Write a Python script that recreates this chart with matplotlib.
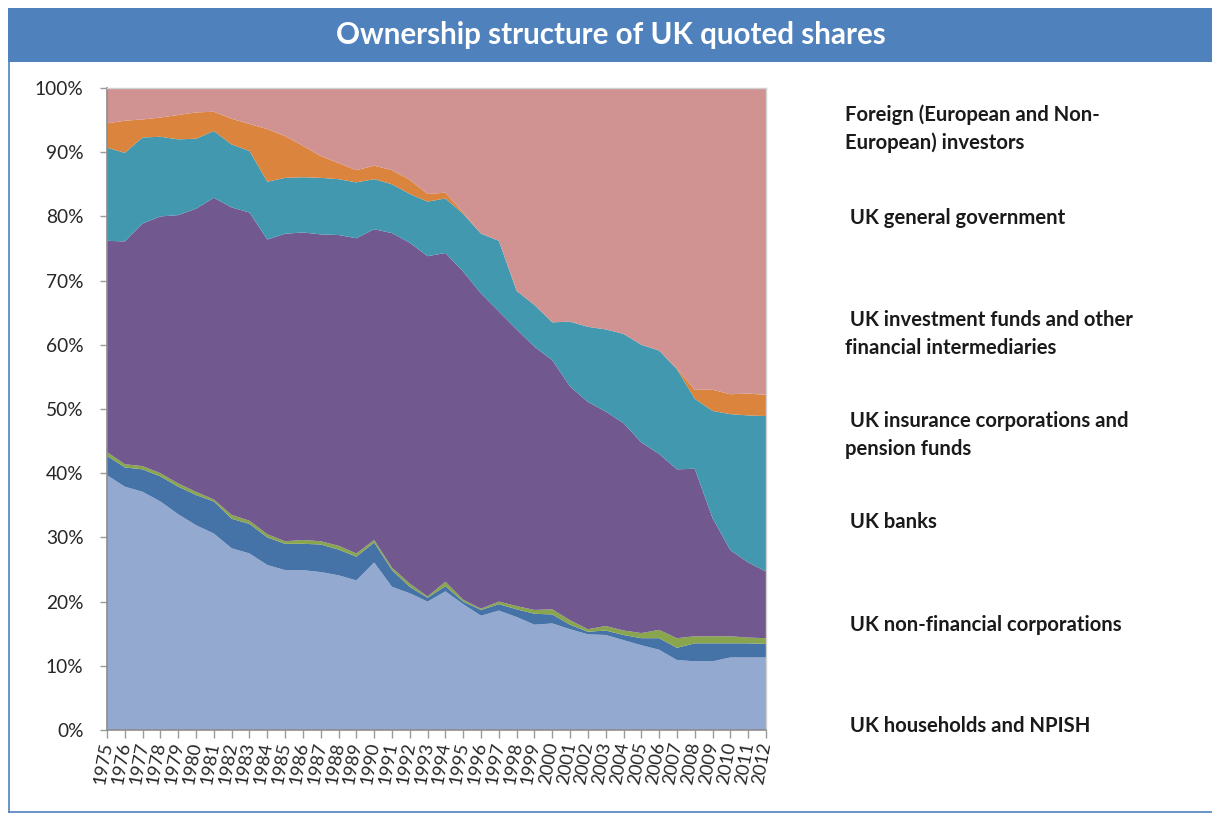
import matplotlib
matplotlib.use("Agg")
import matplotlib.pyplot as plt
from matplotlib.patches import Rectangle
from matplotlib.lines import Line2D

years = list(range(1975, 2013))

households = [39.7, 37.9, 37.1, 35.6, 33.6, 31.9, 30.6, 28.3, 27.5, 25.7, 24.9, 24.9, 24.6, 24.1,
              23.3, 26.1, 22.3, 21.3, 20.0, 21.6, 19.6, 17.8, 18.6, 17.6, 16.4, 16.6, 15.7, 14.9,
              14.8, 14.0, 13.2, 12.5, 10.9, 10.7, 10.7, 11.3, 11.3, 11.3]
non_financial = [3.0, 3.0, 3.5, 3.9, 4.3, 4.7, 5.0, 4.6, 4.6, 4.3, 4.1, 4.1, 4.3, 4.0, 3.7, 3.1,
                 2.6, 1.0, 0.6, 0.8, 0.4, 0.9, 1.0, 1.2, 1.7, 1.4, 0.7, 0.4, 0.7, 0.8, 1.1, 1.8,
                 1.9, 2.8, 2.8, 2.2, 2.2, 2.1]
banks = [0.6, 0.5, 0.5, 0.5, 0.5, 0.5, 0.3, 0.6, 0.5, 0.5, 0.4, 0.6, 0.5, 0.6, 0.5, 0.4, 0.4, 0.5,
         0.2, 0.7, 0.3, 0.2, 0.4, 0.5, 0.6, 0.8, 0.7, 0.4, 0.7, 0.7, 0.8, 1.3, 1.5, 1.1, 1.1, 1.1,
         0.9, 0.9]
insurance_pension = [32.9, 34.7, 37.8, 40.0, 41.8, 44.1, 47.0, 47.9, 48.0, 45.9, 47.9, 47.9, 47.8,
                     48.4, 49.1, 48.4, 52.1, 53.1, 53.0, 51.2, 51.1, 49.1, 45.2, 43.1, 41.0, 38.8,
                     36.4, 35.4, 33.4, 32.3, 29.7, 27.4, 26.3, 26.1, 18.4, 13.4, 11.7, 10.4]
investment_funds = [14.5, 13.8, 13.4, 12.4, 11.8, 10.9, 10.4, 9.8, 9.6, 9.0, 8.7, 8.6, 8.8, 8.7,
                    8.7, 7.8, 7.6, 7.6, 8.5, 8.5, 9.0, 9.3, 11.0, 6.0, 6.5, 5.9, 10.1, 11.7, 12.8,
                    13.9, 15.2, 16.1, 15.6, 10.9, 16.7, 21.2, 22.9, 24.2]
government = [3.8, 5.0, 2.8, 3.0, 3.8, 4.1, 3.0, 4.0, 4.2, 8.2, 6.5, 4.9, 3.4, 2.5, 1.9, 2.1, 2.2,
              2.2, 1.2, 0.9, 0.2, 0.0, 0.0, 0.0, 0.0, 0.0, 0.0, 0.0, 0.0, 0.0, 0.0, 0.0, 0.1, 1.4,
              3.3, 3.1, 3.4, 3.3]
foreign = [5.5, 5.1, 4.9, 4.6, 4.2, 3.8, 3.7, 4.8, 5.6, 6.4, 7.5, 9.0, 10.6, 11.7, 12.8, 12.1,
           12.8, 14.3, 16.5, 16.3, 19.4, 22.7, 23.8, 31.6, 33.8, 36.5, 36.4, 37.2, 37.6, 38.3,
           40.0, 40.9, 43.7, 47.0, 47.0, 47.7, 47.6, 47.8]

series_labels = [
    " UK households and NPISH",
    " UK non-financial corporations",
    " UK banks",
    " UK insurance corporations and\npension funds",
    " UK investment funds and other\nfinancial intermediaries",
    " UK general government",
    "Foreign (European and Non-\nEuropean) investors",
]
colors = ["#94A9CF", "#4572A7", "#89A54E", "#71588F", "#4198AF", "#DB843D", "#D19292"]

W, H = 1212, 814
fig = plt.figure(figsize=(W / 100, H / 100), dpi=100)
fig.patch.set_facecolor("white")

# frame and title band
frame_col = "#4F81BD"
fig.add_artist(Rectangle((8 / W, 1 - 62 / H), (W - 8) / W, 54 / H, transform=fig.transFigure,
                         facecolor=frame_col, edgecolor="none", zorder=0))
fig.add_artist(Line2D([8.5 / W, 8.5 / W], [1 - 62 / H, 1 - 811.5 / H], transform=fig.transFigure,
                      color=frame_col, lw=1.2))
fig.add_artist(Line2D([8.5 / W, 1.0], [1 - 811.5 / H, 1 - 811.5 / H], transform=fig.transFigure,
                      color=frame_col, lw=1.2))
fig.text(611 / W, 1 - 35 / H, "Ownership structure of UK quoted shares", color="white",
         fontsize=21.3, fontweight="bold", family=["Lato", "DejaVu Sans"], ha="center", va="center")

ax = fig.add_axes([107 / W, 1 - 730 / H, (766 - 107) / W, (730 - 88) / H])
data = [households, non_financial, banks, insurance_pension, investment_funds, government, foreign]
ax.stackplot(years, data, colors=colors, linewidth=0)
ax.set_xlim(years[0], years[-1])
ax.set_ylim(0, 100)
ax.set_yticks(range(0, 101, 10))
ax.set_yticklabels([f"{v}%" for v in range(0, 101, 10)])
ax.set_xticks(years)
ax.set_xticklabels([str(y) for y in years], rotation=80, ha="right", va="center",
                   rotation_mode="anchor")
for lab in ax.get_xticklabels():
    lab.set_family(["Lato", "DejaVu Sans"])
    lab.set_fontsize(13.2)
    lab.set_color("#262626")
for lab in ax.get_yticklabels():
    lab.set_family(["Lato", "DejaVu Sans"])
    lab.set_fontsize(13.8)
    lab.set_color("#262626")
ax.tick_params(axis="x", direction="out", length=6, width=1, color="#9a9a9a", pad=3)
ax.tick_params(axis="y", direction="out", length=5, width=1, color="#9a9a9a", pad=12)
for side in ["left", "bottom"]:
    ax.spines[side].set_color("#8c8c8c")
    ax.spines[side].set_linewidth(1.2)
for side in ["top", "right"]:
    ax.spines[side].set_color("#d0d0d0")
    ax.spines[side].set_linewidth(1.0)

# legend as text entries
legend_y = [726, 625, 522, 435, 334, 218, 129]
for lab, yy in zip(series_labels, legend_y):
    fig.text(845 / W, 1 - yy / H, lab, fontsize=14.6, fontweight="bold", color="#1a1a1a",
             family=["Lato", "DejaVu Sans"], ha="left", va="center", linespacing=1.45)

fig.savefig("out.png", dpi=100)
